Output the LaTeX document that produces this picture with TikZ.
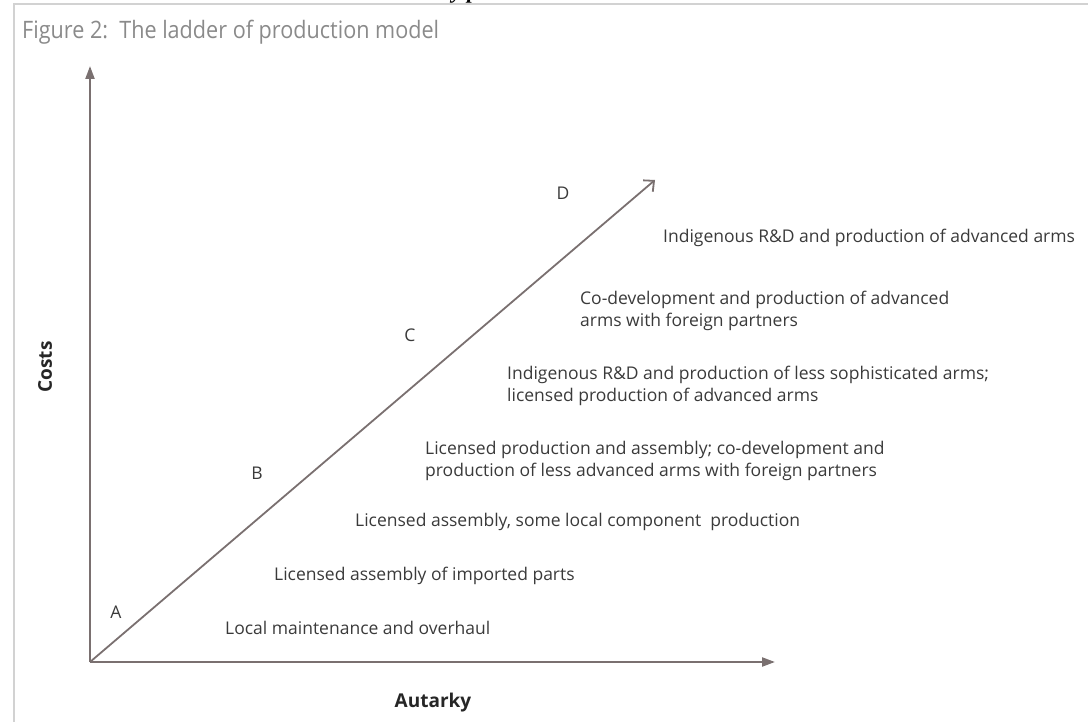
\documentclass[tikz,border=0pt]{standalone}
\usepackage{fontspec}
\setmainfont{Open Sans}
\newfontfamily\headserif{Liberation Serif}
\usetikzlibrary{arrows.meta}
\definecolor{axisgrey}{HTML}{7A7070}
\definecolor{textgrey}{HTML}{3A3A3A}
\definecolor{titlegrey}{HTML}{8A8A8A}
\definecolor{framegrey}{HTML}{D2D2D2}
\begin{document}
\begin{tikzpicture}[x=1pt,y=-1pt,
  axis/.style={draw=axisgrey, line width=2.2pt, -{Triangle[length=13pt,width=9pt]}},
  ladder/.style={draw=axisgrey, line width=1.8pt, -{Straight Barb[length=8pt,width=15pt,line width=1.8pt]}},
  rung/.style={anchor=west, text=textgrey, font=\fontsize{17.5}{22.5}\selectfont, align=left, inner sep=0pt},
  stage/.style={text=textgrey, font=\fontsize{17.5}{20}\selectfont, inner sep=0pt},
  axislabel/.style={text=black!85, font=\bfseries\fontsize{19}{22}\selectfont, inner sep=0pt}]
\useasboundingbox (0,0) rectangle (1088,722);
\clip (0,0) rectangle (1088,722);
% page frame
\draw[framegrey, line width=1.2pt] (1088,4) -- (14,4) -- (14,722);
% running head cut by the top edge
\node[anchor=base west, inner sep=0pt, font=\headserif\bfseries\itshape\fontsize{22}{24}\selectfont] (head) at (452,-1) {y p};
% caption
\node[anchor=west, inner sep=0pt, text=titlegrey] (title) at (22,32)
  {\scalebox{0.9}[1]{\fontsize{24}{26}\selectfont Figure 2:\ \ The ladder of production model}};
% axes
\coordinate (O) at (90,662);
\coordinate (ytip) at (90,66);
\coordinate (xtip) at (775,662);
\coordinate (dtip) at (655,180);
\draw[axis] (O) -- (ytip);
\draw[axis] (O) -- (xtip);
\draw[ladder] (O) -- (dtip);
\node[axislabel, rotate=90] (costs) at (45,367) {Costs};
\node[axislabel] (autarky) at (433,703) {Autarky};
% stages along the ladder
\node[stage] (A) at (116,612) {A};
\node[stage] (B) at (257,473) {B};
\node[stage] (C) at (410,335) {C};
\node[stage] (D) at (563,193) {D};
% rungs
\node[rung] (r7) at (663,238) {Indigenous R\&D and production of advanced arms};
\node[rung] (r6) at (580,311) {Co-development and production of advanced\\arms with foreign partners};
\node[rung] (r5) at (507,386) {Indigenous R\&D and production of less sophisticated arms;\\licensed production of advanced arms};
\node[rung] (r4) at (425,461) {Licensed production and assembly; co-development and\\production of less advanced arms with foreign partners};
\node[rung] (r3) at (355,522) {Licensed assembly, some local component\ \ production};
\node[rung] (r2) at (274,576) {Licensed assembly of imported parts};
\node[rung] (r1) at (225,628) {Local maintenance and overhaul};
\end{tikzpicture}
\end{document}
